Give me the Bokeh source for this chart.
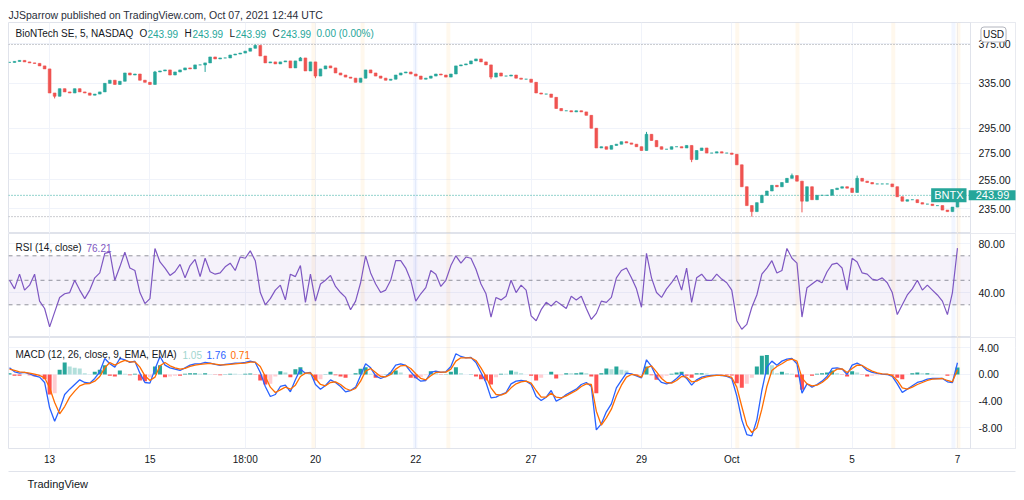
from bokeh.plotting import figure
from bokeh.layouts import column
from bokeh.models import (ColumnDataSource, FixedTicker, Span, Label, BoxAnnotation,
                          PrintfTickFormatter, Range1d, Title, LinearAxis)
from bokeh.embed import file_html
from bokeh.resources import INLINE

# ---------------- data ----------------
closes = [
    355.5, 356.5, 357.5, 356, 355, 354.5, 352, 349, 326, 323,
    330, 327, 326, 330, 327, 326, 324, 325, 327, 335,
    338, 334, 337, 345, 343, 344, 338, 336, 334, 346,
    347, 348, 343, 346, 348, 350, 349, 353, 353, 355,
    361, 359, 360, 360, 363, 364, 365, 367, 370, 373,
    362, 355, 356, 354, 356, 357, 350, 357, 360, 347,
    356, 342, 349, 352, 350, 345, 343, 341, 340, 336,
    340, 348, 345, 342, 340, 338, 339, 343, 345, 346,
    344, 342, 339, 340, 342, 344, 343, 341, 344, 352,
    353, 354, 357, 359, 356, 353, 341, 345, 342, 342,
    343, 340, 339, 339, 336, 326, 325, 325, 322, 312,
    310, 310, 309, 310, 309, 306, 295, 279, 280, 278,
    281, 282, 284, 283, 282, 280, 277, 290, 285, 280,
    278, 278, 280, 280, 279, 281, 270, 277, 279, 275,
    275, 276, 275, 275, 274, 266, 250, 237, 233, 239,
    244, 247, 251, 250, 253, 256, 258, 254, 240, 250,
    241, 244, 244, 244, 248, 249, 250, 249, 246, 256,
    254, 253, 252, 252, 252, 252, 250, 243, 240, 241,
    241, 239, 238, 238, 237, 237, 234, 233, 236, 243.99,
]
spike_highs = {49: 374.0, 29: 347.0, 58: 361.0, 127: 292.0, 156: 259.5, 169: 258.0}
spike_lows = {39: 346.0, 148: 229.7, 158: 232.5, 61: 340.0, 96: 339.0, 136: 268.0, 9: 321.0}

rsi = [
    50, 43, 55, 42, 46, 55, 33, 27, 12, 24,
    36, 39, 40, 50, 42, 35, 42, 52, 56, 72,
    73, 50, 61, 73, 60, 58, 40, 31, 35, 76,
    65, 60, 54, 57, 63, 52, 62, 67, 53, 68,
    57, 55, 56, 61, 64, 58, 69, 68, 74, 66,
    40, 30, 35, 42, 46, 34, 55, 53, 62, 32,
    55, 33, 47, 50, 54, 45, 40, 36, 26, 33,
    48, 70, 56, 47, 40, 42, 50, 66, 66, 60,
    50, 33, 39, 44, 58, 55, 45, 50, 62, 70,
    64, 69, 68, 59, 47, 39, 20, 36, 34, 37,
    50, 40, 46, 42, 21, 17, 26, 32, 29, 33,
    30, 27, 37, 34, 37, 27, 18, 23, 33, 32,
    36, 52, 58, 60, 52, 43, 28, 72, 52, 40,
    36, 43, 48, 54, 42, 60, 32, 52, 55, 50,
    50, 55, 51, 48, 42, 17, 10, 14, 28, 38,
    55, 60, 66, 56, 58, 76, 68, 64, 20, 44,
    47, 50, 48, 57, 63, 64, 60, 42, 68, 65,
    56, 55, 51, 50, 52, 48, 40, 22, 30, 38,
    43, 50, 42, 46, 42, 38, 33, 22, 40, 76.21,
]

macd = [
    1.0, 0.4, 0.2, 0.3, 0.1, -0.2, -0.4, -1.2, -5.0, -7.0,
    -5.2, -3.0, -2.2, -1.5, -0.8, -1.2, -1.3, -0.6, 0.4, 2.4,
    1.6, 1.1, 2.4, 2.2, 1.8, 2.0, 0.2, -1.2, -1.3, 0.8,
    2.7, 1.4, 1.0, 0.8, 0.6, 1.0, 1.4, 1.6, 1.6, 1.8,
    1.7, 1.5, 1.35, 1.5, 1.6, 1.7, 1.7, 1.8, 2.0, 1.8,
    0.3, -1.8, -3.3, -3.0, -1.8, -1.6, -2.6, -0.8, 0.8, 0.2,
    0.3, -1.5, -2.2, -1.65, -0.8, -1.2, -1.8, -2.6, -2.4, -1.9,
    -0.15, 1.6, 1.0, -0.2, -0.6, -0.3, 0.3, 1.4, 1.6, 1.35,
    0.4, -0.45, -1.0, -0.9, 0.3, 0.5, 0.3, 0.4, 1.2, 3.1,
    2.7, 2.5, 2.55, 1.8, 0.3, -1.2, -3.5, -3.4, -3.0, -2.7,
    -1.4, -1.0, -0.9, -1.0, -1.5, -3.3, -3.9, -3.4, -2.4, -4.0,
    -3.6, -3.0, -2.6, -2.2, -1.5, -1.2, -1.8, -8.3, -7.4, -5.6,
    -4.4, -2.0, -0.9, 0.2, 0.1, -0.2, -0.5, 2.2, 1.2, -0.4,
    -1.2, -1.4, -1.2, -0.6, 0.1, -0.6, -1.6, -0.8, -0.4, -0.2,
    -0.15, -0.1, -0.15, -0.3, -0.6, -3.2, -6.8, -9.0, -9.2, -6.8,
    -2.4, 1.1, 2.0, 1.4, 2.0, 2.3, 2.4, 1.6, -2.8, -1.4,
    -1.9, -1.5, -1.0, -0.3, 0.9, 1.0, 0.8, 0.0, 1.4, 1.7,
    1.3, 0.6, 0.3, 0.15, 0.05, 0.0, -0.3, -1.4, -2.7, -2.2,
    -1.7, -1.2, -1.0, -0.7, -0.6, -0.6, -0.6, -1.1, -1.2, 1.76,
]

signal = [
    0.8, 0.6, 0.4, 0.3, 0.2, 0.05, -0.15, -0.5, -2.0, -4.2,
    -5.9, -4.8, -3.4, -2.5, -1.7, -1.4, -1.35, -1.0, -0.3, 1.0,
    1.8, 1.4, 1.8, 2.1, 1.9, 1.9, 1.1, -0.2, -0.9, -0.4,
    1.3, 1.8, 1.3, 1.0, 0.8, 0.9, 1.2, 1.4, 1.5, 1.6,
    1.65, 1.55, 1.45, 1.45, 1.5, 1.6, 1.65, 1.7, 1.85, 1.85,
    1.2, -0.3, -1.9, -2.7, -2.3, -1.9, -2.2, -1.6, -0.3, 0.2,
    0.25, -0.6, -1.5, -1.7, -1.2, -1.1, -1.5, -2.1, -2.4, -2.1,
    -1.0, 0.5, 0.9, 0.3, -0.3, -0.35, 0.0, 0.8, 1.3, 1.35,
    0.9, 0.1, -0.6, -0.8, -0.2, 0.3, 0.35, 0.35, 0.8, 2.0,
    2.5, 2.5, 2.5, 2.1, 1.0, -0.3, -2.0, -3.0, -3.1, -2.8,
    -2.0, -1.4, -1.1, -1.0, -1.3, -2.4, -3.4, -3.4, -2.8, -3.4,
    -3.5, -3.2, -2.8, -2.4, -1.8, -1.4, -1.5, -5.5, -7.6, -6.5,
    -5.2, -3.2, -1.6, -0.4, 0.0, -0.1, -0.4, 1.0, 1.3, 0.4,
    -0.6, -1.2, -1.3, -0.9, -0.3, -0.4, -1.1, -1.0, -0.6, -0.35,
    -0.2, -0.12, -0.12, -0.2, -0.45, -1.9, -4.8, -7.6, -8.7, -8.0,
    -5.2, -1.8, 0.6, 1.2, 1.6, 2.1, 2.3, 2.0, -0.5, -1.4,
    -1.7, -1.6, -1.2, -0.6, 0.3, 0.8, 0.85, 0.3, 0.9, 1.4,
    1.35, 0.9, 0.5, 0.25, 0.1, 0.05, -0.15, -0.9, -2.0, -2.2,
    -1.9, -1.5, -1.2, -0.9, -0.7, -0.65, -0.6, -0.9, -1.1, 0.71,
]

tick_bars = [8, 28, 47, 61, 81, 104, 126, 144, 168, 189]
tick_labels = ["13", "15", "18:00", "20", "22", "27", "29", "Oct", "5", "7"]
price_ticks = [235, 255, 275, 295, 335, 375]
rsi_ticks = [40, 80]
macd_ticks = [-8, -4, 0, 4]
orange_bands = [60.6, 70.4, 87.5, 145.1, 157.1, 176.2, 189.2]
blue_bands = [80.9, 188.2]
last_price = 243.99
high_line = 374.0
low_line = 229.7

# ---------------- styling / layout ----------------
FONT = "Liberation Sans"
UP = "#26a69a"
DOWN = "#ef5350"
GRID = "#f0f3fa"
BORDER = "#e0e3eb"
TXT = "#131722"
PAD = 8            # page margin
FRAME_W = 1007     # whole chart width, price scale included
PANE_W = 962       # width of the plotting area left of the price scale

n = len(closes)
xs = list(range(n))
x_start = -0.2
px_per_bar = PANE_W / (n - 1 + 2.6 - x_start)
x_end = x_start + FRAME_W / px_per_bar
x_scale_pos = x_start + PANE_W / px_per_bar   # where the price scale sits

opens = [closes[0]] + closes[:-1]
highs = [max(o, c) for o, c in zip(opens, closes)]
lows = [min(o, c) for o, c in zip(opens, closes)]
for i, v in spike_highs.items():
    highs[i] = max(highs[i], v)
for i, v in spike_lows.items():
    lows[i] = min(lows[i], v)
ccolors = [UP if c >= o else DOWN for o, c in zip(opens, closes)]

hist = [m - s for m, s in zip(macd, signal)]
hcolors = []
for i, h in enumerate(hist):
    prev = hist[i - 1] if i > 0 else h
    if h >= 0:
        hcolors.append("#26a69a" if h >= prev else "#b2dfdb")
    else:
        hcolors.append("#ff5252" if h < prev else "#ffcdd2")

xr = Range1d(x_start, x_end)


def make_fig(h, yr, ytype="linear", top=0, bottom=0, xaxis=False):
    p = figure(frame_width=FRAME_W, frame_height=h, x_range=xr, y_range=yr,
               y_axis_type=ytype, y_axis_location="right",
               x_axis_location="below" if xaxis else None,
               output_backend="svg", toolbar_location=None,
               min_border=0, min_border_left=PAD, min_border_right=1,
               min_border_top=top, min_border_bottom=bottom,
               background_fill_color="white", border_fill_color="white",
               outline_line_color=BORDER)
    p.yaxis.fixed_location = x_scale_pos
    p.yaxis.axis_line_color = BORDER
    p.yaxis.major_tick_line_color = None
    p.yaxis.minor_tick_line_color = None
    p.yaxis.major_tick_out = 0
    p.yaxis.minor_tick_out = 0
    p.yaxis.major_label_text_font = FONT
    p.yaxis.major_label_text_font_size = "10.5px"
    p.yaxis.major_label_text_color = TXT
    p.yaxis.major_label_standoff = 8
    p.yaxis.formatter = PrintfTickFormatter(format="%.2f")
    p.ygrid.grid_line_color = GRID
    p.xgrid.grid_line_color = GRID
    p.xgrid.ticker = FixedTicker(ticks=tick_bars)
    for b in orange_bands:
        p.add_layout(BoxAnnotation(left=b - 0.4, right=b + 0.4, fill_color="#ff9800",
                                   fill_alpha=0.07, line_color=None, level="underlay"))
    for b in blue_bands:
        p.add_layout(BoxAnnotation(left=b - 0.4, right=b + 0.4, fill_color="#2962ff",
                                   fill_alpha=0.06, line_color=None, level="underlay"))
    # blank price-scale column (covers grid lines, drawn below the axis labels)
    p.add_layout(BoxAnnotation(left=x_scale_pos, fill_color="white", fill_alpha=1.0,
                               line_color=None, level="glyph"))
    return p


def lab(p, text, x, y, color=TXT, size="10px", y_units="screen", **kw):
    p.add_layout(Label(x=x, y=y, x_units="screen", y_units=y_units, text=text,
                       text_color=color, text_font=FONT, text_font_size=size,
                       text_baseline="middle", **kw))


def hspan(p, loc, color, dash):
    p.add_layout(Span(location=loc, dimension="width", line_color=color,
                      line_dash=dash, line_width=1, level="underlay"))


# ---------------- price pane ----------------
pp = make_fig(211, Range1d(219, 398), ytype="log", top=22)
pp.title.text = "JJSparrow published on TradingView.com, Oct 07, 2021 12:44 UTC"
pp.title.align = "left"
pp.title.text_font = FONT
pp.title.text_font_size = "10.5px"
pp.title.text_font_style = "normal"
pp.title.text_color = "#2a2e39"
pp.title.standoff = 4
pp.yaxis.ticker = FixedTicker(ticks=price_ticks)
pp.ygrid.ticker = FixedTicker(ticks=price_ticks)
src = ColumnDataSource(dict(x=xs, open=opens, close=closes, high=highs, low=lows,
                            top=[max(o, c) for o, c in zip(opens, closes)],
                            bottom=[min(o, c) for o, c in zip(opens, closes)],
                            color=ccolors))
pp.segment(x0="x", y0="low", x1="x", y1="high", color="color", line_width=1, source=src)
pp.vbar(x="x", width=0.55, top="top", bottom="bottom", fill_color="color",
        line_color="color", line_width=0.6, source=src)
hspan(pp, high_line, "#9598a1", "1 2")
hspan(pp, low_line, "#9598a1", "1 2")
hspan(pp, last_price, UP, "1 2")

lab(pp, "BioNTech SE, 5, NASDAQ", 7, 200)
lab(pp, "O", 131, 200)
lab(pp, "243.99", 139, 200, color=UP)
lab(pp, "H", 176, 200)
lab(pp, "243.99", 184, 200, color=UP)
lab(pp, "L", 221, 200)
lab(pp, "243.99", 227, 200, color=UP)
lab(pp, "C", 264, 200)
lab(pp, "243.99", 272, 200, color=UP)
lab(pp, "0.00 (0.00%)", 308, 200, color=UP)
lab(pp, "BNTX", PANE_W - 4, last_price, y_units="data", color="white", size="11px",
    text_align="right", background_fill_color=UP, padding=(3, 1))
lab(pp, "243.99", PANE_W + 22, last_price, y_units="data", color="white", size="11px",
    text_align="center", background_fill_color=UP, padding=(7, 1))
lab(pp, "USD", PANE_W + 23, 199, size="10px", text_align="center",
    background_fill_color="white", border_line_color="#b2b5be", padding=2,
    border_radius=3)

# ---------------- RSI pane ----------------
pr = make_fig(104, Range1d(3.3, 88.2))
pr.yaxis.ticker = FixedTicker(ticks=rsi_ticks)
pr.ygrid.ticker = FixedTicker(ticks=rsi_ticks)
pr.add_layout(BoxAnnotation(bottom=30, top=70, fill_color="#7e57c2", fill_alpha=0.08,
                            line_color=None, level="underlay"))
for lvl in (30, 50, 70):
    pr.add_layout(Span(location=lvl, dimension="width", line_color="#787b86",
                       line_dash="4 4", line_width=1, line_alpha=0.8, level="underlay"))
pr.line(xs, rsi, line_color="#7e57c2", line_width=1.2)
lab(pr, "RSI (14, close)", 7, 90)
lab(pr, "76.21", 78, 90, color="#7e57c2")

# ---------------- MACD pane ----------------
pm = make_fig(111, Range1d(-11.09, 5.54), bottom=48, xaxis=True)
pm.yaxis.ticker = FixedTicker(ticks=macd_ticks)
pm.ygrid.ticker = FixedTicker(ticks=macd_ticks)
pm.xaxis.ticker = FixedTicker(ticks=tick_bars)
pm.xaxis.major_label_overrides = {b: t for b, t in zip(tick_bars, tick_labels)}
pm.xaxis.axis_line_color = None
pm.xaxis.major_tick_line_color = None
pm.xaxis.minor_tick_line_color = None
pm.xaxis.major_tick_out = 0
pm.xaxis.minor_tick_out = 0
pm.xaxis.major_label_text_font = FONT
pm.xaxis.major_label_text_font_size = "10px"
pm.xaxis.major_label_text_color = TXT
pm.xaxis.major_label_standoff = 5
pm.xaxis.axis_label = " "
pm.xaxis.axis_label_text_font_size = "1px"
pm.xaxis.axis_label_standoff = 0
# bottom border line of the time scale
edge = LinearAxis(ticker=FixedTicker(ticks=[]), axis_line_color=BORDER,
                  major_tick_line_color=None, minor_tick_line_color=None,
                  major_tick_out=0, minor_tick_out=0, major_label_text_font_size="0px")
pm.add_layout(edge, "below")
hsrc = ColumnDataSource(dict(x=xs, top=hist, color=hcolors))
pm.vbar(x="x", width=0.8, top="top", bottom=0, fill_color="color", line_color=None,
        source=hsrc)
pm.line(xs, macd, line_color="#2962ff", line_width=1.3)
pm.line(xs, signal, line_color="#ff6d00", line_width=1.3)
lab(pm, "MACD (12, 26, close, 9, EMA, EMA)", 7, 94)
lab(pm, "1.05", 174, 94, color="#9fd6cf")
lab(pm, "1.76", 198, 94, color="#2962ff")
lab(pm, "0.71", 222, 94, color="#ff6d00")
pm.add_layout(Title(text="TradingView", align="left", offset=19, text_font=FONT,
                    text_font_size="11px", text_font_style="normal", text_color=TXT,
                    standoff=8), "below")

layout = column(pp, pr, pm)
open("out.html", "w").write(file_html(layout, INLINE))
